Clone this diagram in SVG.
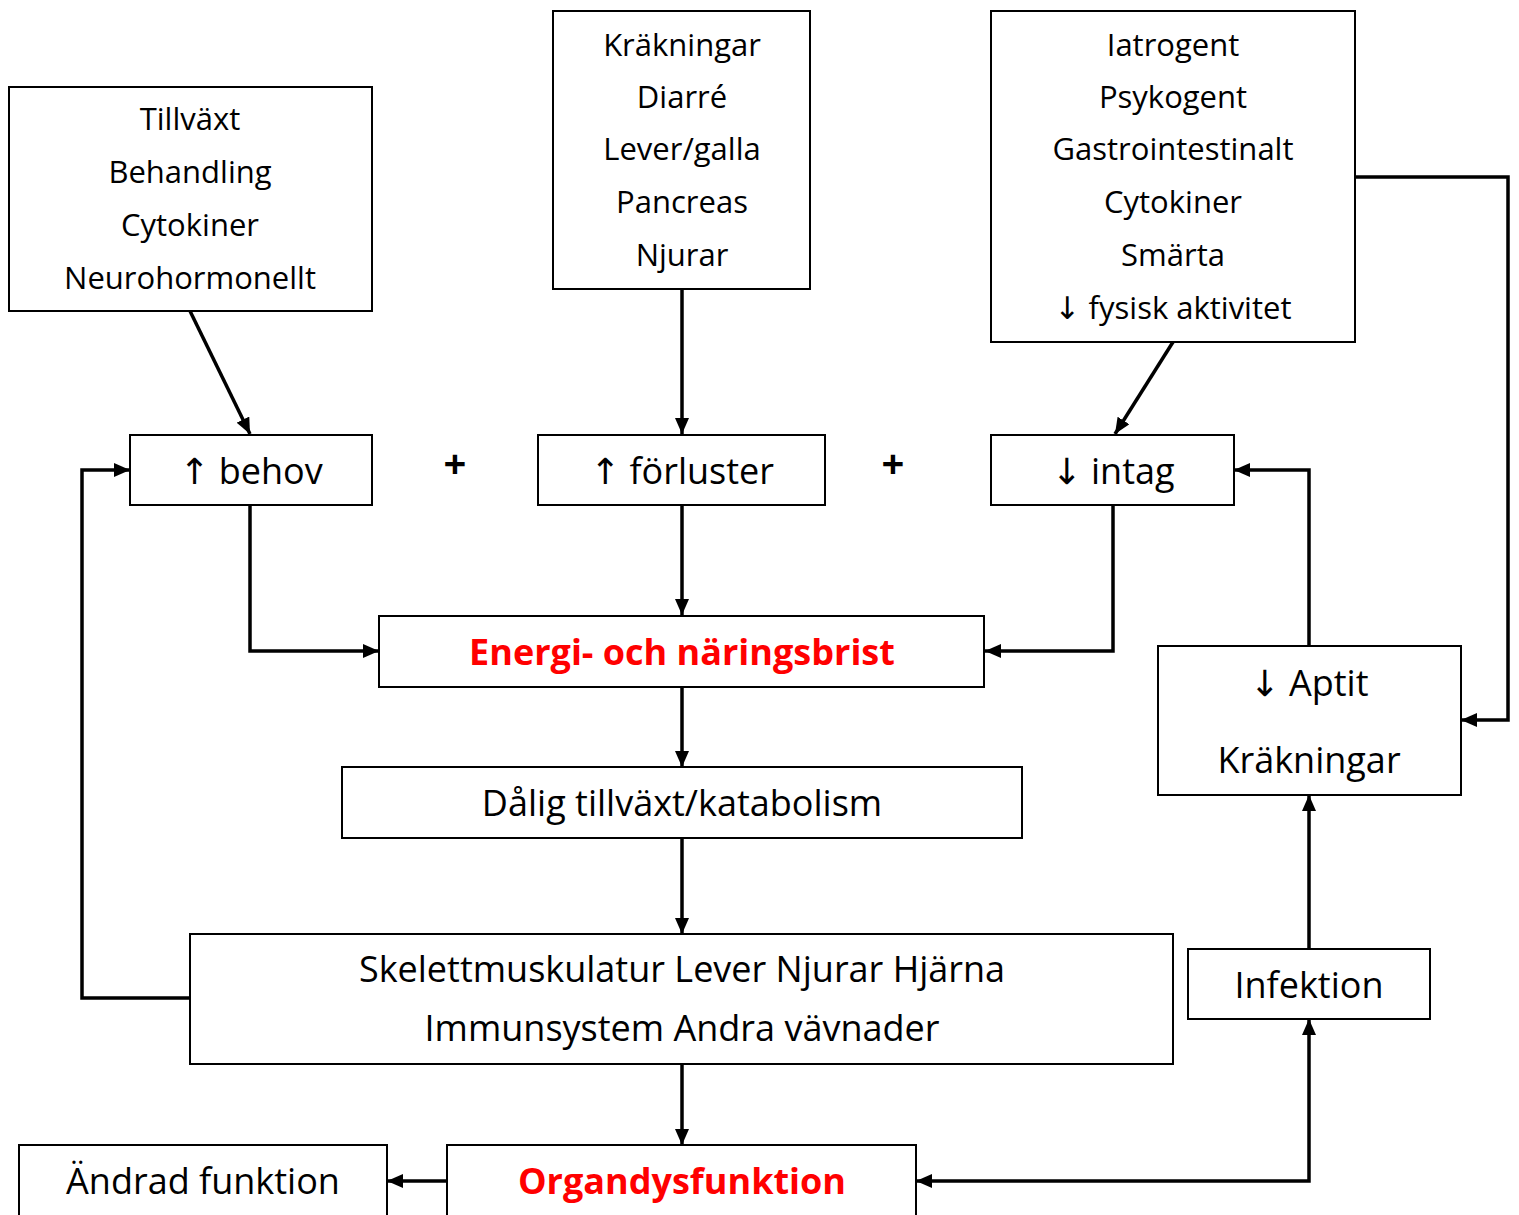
<svg xmlns="http://www.w3.org/2000/svg" width="1519" height="1215" viewBox="0 0 1519 1215">
<defs>
<marker id="ah" viewBox="0 0 16 14" refX="16" refY="7" markerWidth="16" markerHeight="14" markerUnits="userSpaceOnUse" orient="auto-start-reverse">
<path d="M0,0 L16,7 L0,14 z" fill="#000"/>
</marker>
<style>
.box{fill:#fff;stroke:#000;stroke-width:2}
.t{font-family:"Open Sans","Noto Sans",sans-serif;font-size:31px;fill:#000;text-anchor:middle}
.big{font-size:36px}
.red{fill:#f00;font-weight:bold}
.ar{font-family:"DejaVu Sans",sans-serif;font-weight:normal}
.plus{font-weight:bold;font-size:40px}
.c{fill:none;stroke:#000;stroke-width:3.5}
</style>
</defs>
<rect width="1519" height="1215" fill="#fff"/>
<g id="connectors">
<path class="c" d="M190,311 L250,434" marker-end="url(#ah)"/>
<path class="c" d="M682,289 L682,434" marker-end="url(#ah)"/>
<path class="c" d="M1173,342 L1115,434" marker-end="url(#ah)"/>
<path class="c" d="M250,505 L250,651 L379,651" marker-end="url(#ah)"/>
<path class="c" d="M682,505 L682,615" marker-end="url(#ah)"/>
<path class="c" d="M1113,505 L1113,651 L985,651" marker-end="url(#ah)"/>
<path class="c" d="M1355,177 L1508,177 L1508,720 L1461,720" marker-end="url(#ah)"/>
<path class="c" d="M1309,646 L1309,470 L1234,470" marker-end="url(#ah)"/>
<path class="c" d="M682,687 L682,767" marker-end="url(#ah)"/>
<path class="c" d="M682,838 L682,934" marker-end="url(#ah)"/>
<path class="c" d="M190,998 L82,998 L82,470 L130,470" marker-end="url(#ah)"/>
<path class="c" d="M682,1064 L682,1145" marker-end="url(#ah)"/>
<path class="c" d="M447,1181 L387,1181" marker-end="url(#ah)"/>
<path class="c" d="M916,1181 L1309,1181 L1309,1019" marker-start="url(#ah)" marker-end="url(#ah)"/>
<path class="c" d="M1309,949 L1309,795" marker-end="url(#ah)"/>
</g>
<g id="n-faktorer-behov">
<rect class="box" x="9" y="87" width="363" height="224"/>
<text class="t" x="190" y="130">Tillväxt</text>
<text class="t" x="190" y="183">Behandling</text>
<text class="t" x="190" y="236">Cytokiner</text>
<text class="t" x="190" y="289">Neurohormonellt</text>
</g>
<g id="n-faktorer-forluster">
<rect class="box" x="553" y="11" width="257" height="278"/>
<text class="t" x="682" y="56">Kräkningar</text>
<text class="t" x="682" y="108">Diarré</text>
<text class="t" x="682" y="160">Lever/galla</text>
<text class="t" x="682" y="213">Pancreas</text>
<text class="t" x="682" y="266">Njurar</text>
</g>
<g id="n-faktorer-intag">
<rect class="box" x="991" y="11" width="364" height="331"/>
<text class="t" x="1173" y="56">Iatrogent</text>
<text class="t" x="1173" y="108">Psykogent</text>
<text class="t" x="1173" y="160">Gastrointestinalt</text>
<text class="t" x="1173" y="213">Cytokiner</text>
<text class="t" x="1173" y="266">Smärta</text>
<text class="t" x="1173" y="319"><tspan class="ar">↓</tspan> fysisk aktivitet</text>
</g>
<g id="n-behov">
<rect class="box" x="130" y="435" width="242" height="70"/>
<text class="t big" x="251" y="484"><tspan class="ar">↑</tspan> behov</text>
</g>
<text class="t plus" x="455" y="478">+</text>
<g id="n-forluster">
<rect class="box" x="538" y="435" width="287" height="70"/>
<text class="t big" x="682" y="484"><tspan class="ar">↑</tspan> förluster</text>
</g>
<text class="t plus" x="893" y="478">+</text>
<g id="n-intag">
<rect class="box" x="991" y="435" width="243" height="70"/>
<text class="t big" x="1113" y="484"><tspan class="ar">↓</tspan> intag</text>
</g>
<g id="n-energi">
<rect class="box" x="379" y="616" width="605" height="71"/>
<text class="t big red" x="682" y="665">Energi- och näringsbrist</text>
</g>
<g id="n-dalig">
<rect class="box" x="342" y="767" width="680" height="71"/>
<text class="t big" x="682" y="816">Dålig tillväxt/katabolism</text>
</g>
<g id="n-organ">
<rect class="box" x="190" y="934" width="983" height="130"/>
<text class="t big" x="682" y="982">Skelettmuskulatur Lever Njurar Hjärna</text>
<text class="t big" x="682" y="1041">Immunsystem Andra vävnader</text>
</g>
<g id="n-aptit">
<rect class="box" x="1158" y="646" width="303" height="149"/>
<text class="t big" x="1309" y="696"><tspan class="ar">↓</tspan> Aptit</text>
<text class="t big" x="1309" y="773">Kräkningar</text>
</g>
<g id="n-infektion">
<rect class="box" x="1188" y="949" width="242" height="70"/>
<text class="t big" x="1309" y="998">Infektion</text>
</g>
<g id="n-andrad">
<rect class="box" x="19" y="1145" width="368" height="80"/>
<text class="t big" x="203" y="1194">Ändrad funktion</text>
</g>
<g id="n-organdysfunktion">
<rect class="box" x="447" y="1145" width="469" height="80"/>
<text class="t big red" x="682" y="1194">Organdysfunktion</text>
</g>
</svg>
